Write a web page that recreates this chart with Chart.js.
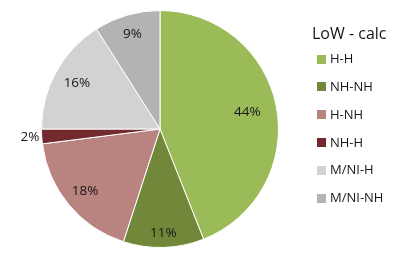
<!DOCTYPE html>
<html>
<head>
<meta charset="utf-8">
<script src="https://cdn.jsdelivr.net/npm/chart.js@4/dist/chart.umd.min.js"></script>
<style>
html,body{margin:0;padding:0;background:#fff;}
#wrap{position:relative;width:406px;height:253px;}
</style>
</head>
<body>
<div id="wrap"><canvas id="c" width="406" height="253"></canvas></div>
<script>
const legendTitle = "LoW - calc";
const categories = ["H-H", "NH-NH", "H-NH", "NH-H", "M/NI-H", "M/NI-NH"];
const shares = [44, 11, 18, 2, 16, 9];
const colors = ["#9BBB59", "#71883A", "#B98480", "#722A2E", "#D2D2D2", "#B3B3B3"];

const labelRadius = [0.75, 0.88, 0.82, 1.1, 0.8, 0.83];
const FONT = "'Open Sans', 'Liberation Sans', sans-serif";

const sliceLabels = {
  id: 'sliceLabels',
  afterDatasetsDraw(chart) {
    const ctx = chart.ctx;
    const meta = chart.getDatasetMeta(0);
    ctx.save();
    ctx.font = "13.5px " + FONT;
    ctx.fillStyle = "#161616";
    ctx.textAlign = "center";
    ctx.textBaseline = "middle";
    meta.data.forEach((arc, i) => {
      const p = arc.getProps(['x','y','startAngle','endAngle','outerRadius'], true);
      const mid = (p.startAngle + p.endAngle) / 2;
      const r = p.outerRadius * labelRadius[i];
      const x = p.x + Math.cos(mid) * r;
      const y = p.y + Math.sin(mid) * r;
      ctx.fillText(chart.data.datasets[0].data[i] + "%", x, y);
    });
    ctx.restore();
  }
};

const sideLegend = {
  id: 'sideLegend',
  afterDraw(chart) {
    const ctx = chart.ctx;
    ctx.save();
    ctx.fillStyle = "#161616";
    ctx.textBaseline = "alphabetic";
    ctx.font = "16px " + FONT;
    ctx.fillText(legendTitle, 312, 39);
    ctx.font = "13px " + FONT;
    ctx.textBaseline = "middle";
    chart.data.labels.forEach((lab, i) => {
      const y = 59 + i * 27.8;
      ctx.fillStyle = chart.data.datasets[0].backgroundColor[i];
      ctx.fillRect(317, Math.round(y - 4.5), 9, 9);
      ctx.fillStyle = "#161616";
      ctx.fillText(lab, 330, y + 0.5);
    });
    ctx.restore();
  }
};

new Chart(document.getElementById('c'), {
  type: 'pie',
  data: {
    labels: categories,
    datasets: [{
      data: shares,
      backgroundColor: colors,
      borderColor: "#ffffff",
      borderWidth: 1
    }]
  },
  options: {
    responsive: false,
    animation: false,
    layout: { padding: { left: 41, right: 127, top: 10, bottom: 5 } },
    plugins: {
      legend: { display: false },
      tooltip: { enabled: false }
    }
  },
  plugins: [sliceLabels, sideLegend]
});
</script>
</body>
</html>
